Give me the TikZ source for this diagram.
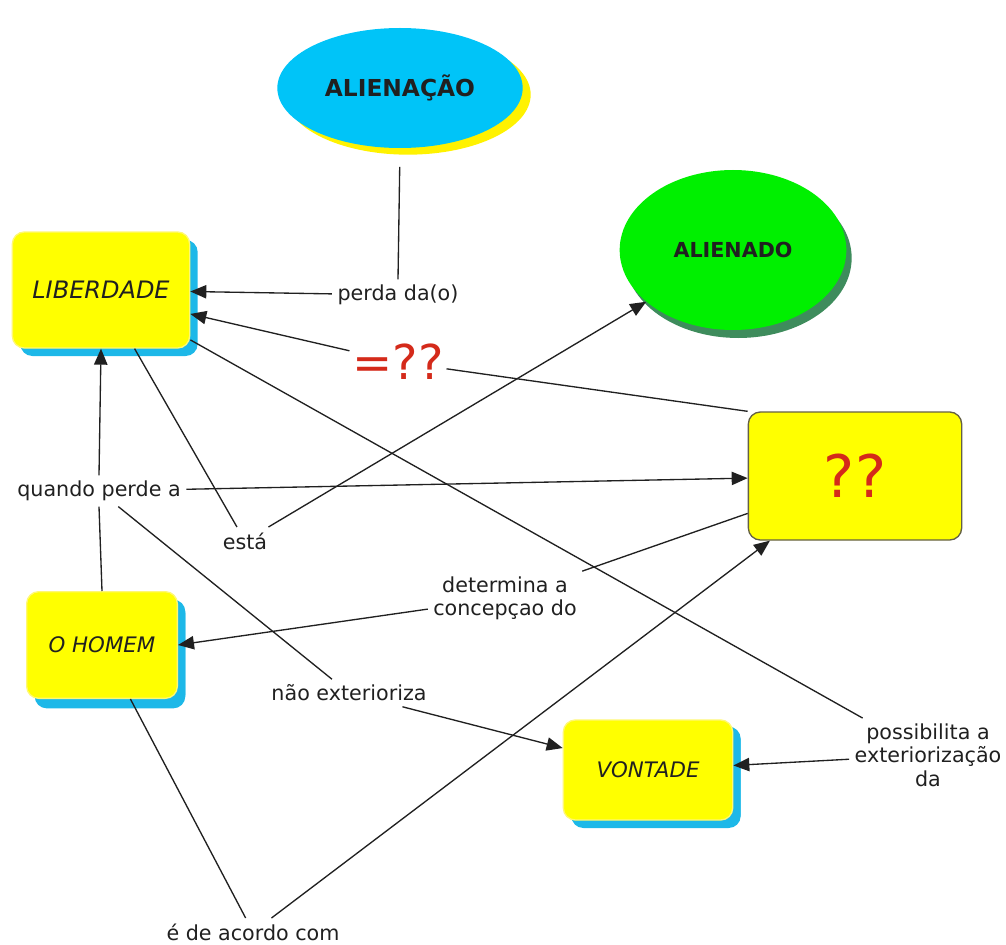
\documentclass[tikz,border=0pt]{standalone}
\usepackage{fontspec}
\setmainfont{DejaVu Sans}
\usetikzlibrary{arrows.meta,shapes.geometric,shadows}

\definecolor{boxyellow}{HTML}{FFFF00}
\definecolor{boxcyan}{HTML}{1DB8E8}
\definecolor{ovalblue}{HTML}{00C4F8}
\definecolor{ovalgreen}{HTML}{00F000}
\definecolor{shadegreen}{HTML}{3E8C5C}
\definecolor{qred}{HTML}{D42A1A}
\definecolor{ink}{HTML}{202020}

\begin{document}
\begin{tikzpicture}[x=0.75pt,y=-0.75pt,
    concept/.style={rectangle,rounded corners=9pt,fill=boxyellow,draw=yellow!55!white,
      line width=1pt,text=ink,font=\fontsize{16}{19}\selectfont\itshape,
      drop shadow={shadow xshift=6pt,shadow yshift=-6pt,fill=boxcyan,draw=none,opacity=1}},
    link/.style={text=ink,font=\fontsize{15.5}{17.5}\selectfont,align=center,inner sep=4pt},
    line/.style={draw=ink,line width=1pt},
    arr/.style={line,-{Triangle[length=12pt,width=10pt]}}]
  \useasboundingbox (0,0) rectangle (1006,945);

  % ovals
  \node[ellipse,fill=ovalblue,minimum width=184pt,minimum height=90pt,text=ink,
    font=\fontsize{17.5}{20}\selectfont\bfseries,
    drop shadow={shadow xshift=6pt,shadow yshift=-5pt,fill=yellow,draw=none,opacity=1}]
    (alienacao) at (400,88) {ALIENAÇÃO};
  \node[ellipse,fill=ovalgreen,minimum width=170pt,minimum height=120pt,text=ink,
    font=\fontsize{15.5}{18}\selectfont\bfseries,
    drop shadow={shadow xshift=4pt,shadow yshift=-6pt,fill=shadegreen,draw=none,opacity=1}]
    (alienado) at (733,250) {ALIENADO};

  % concepts
  \node[concept,minimum width=133pt,minimum height=87pt,
    font=\fontsize{18}{21}\selectfont\itshape] (lib) at (101,290) {LIBERDADE};
  \node[concept,minimum width=113pt,minimum height=80pt,
    drop shadow={shadow xshift=6pt,shadow yshift=-7.5pt,fill=boxcyan,draw=none,opacity=1}]
    (homem) at (102,645) {O HOMEM};
  \node[concept,minimum width=127pt,minimum height=75pt,
    drop shadow={shadow xshift=6pt,shadow yshift=-5pt,fill=boxcyan,draw=none,opacity=1}]
    (vontade) at (648,770) {VONTADE};
  \node[rectangle,rounded corners=9pt,fill=boxyellow,draw=black!70!yellow,line width=1pt,
    minimum width=160pt,minimum height=96pt,text=qred,font=\fontsize{44}{48}\selectfont]
    (qq) at (855,476) {??};

  % linking phrases
  \node[link] (perda) at (398,295) {perda da(o)};
  \node[link,text=qred,font=\fontsize{36}{40}\selectfont,inner sep=2pt] (eqq) at (398,362) {=??};
  \node[link] (quando) at (99,491) {quando perde a};
  \node[link] (esta) at (245,541) {está};
  \node[link] (det) at (505,598) {determina a\\concepçao do};
  \node[link] (nao) at (349,693) {não exterioriza};
  \node[link] (poss) at (928,755) {possibilita a\\exteriorização\\da};
  \node[link] (acordo) at (253,932) {é de acordo com};

  % connectors
  \draw[line,shorten <=14pt] (alienacao.south) -- (perda.north);
  \draw[arr] (perda) -- (lib);
  \draw[line] (qq.north west) -- (eqq);
  \draw[arr] (eqq) -- (lib.345);
  \draw[line] (homem.north) -- (quando.south);
  \draw[arr] (quando.north) -- (lib.south);
  \draw[arr] (quando) -- (qq);
  \draw[line] (lib) -- (esta);
  \draw[arr] (esta) -- (alienado);
  \draw[line] (qq) -- (det);
  \draw[arr] (det) -- (homem.east);
  \draw[line] (lib) -- (poss);
  \draw[arr] (poss) -- (vontade);
  \draw[line] (quando) -- (nao);
  \draw[arr] (nao) -- (vontade);
  \draw[line] (homem) -- (acordo);
  \draw[arr] (acordo) -- (qq);
\end{tikzpicture}
\end{document}
